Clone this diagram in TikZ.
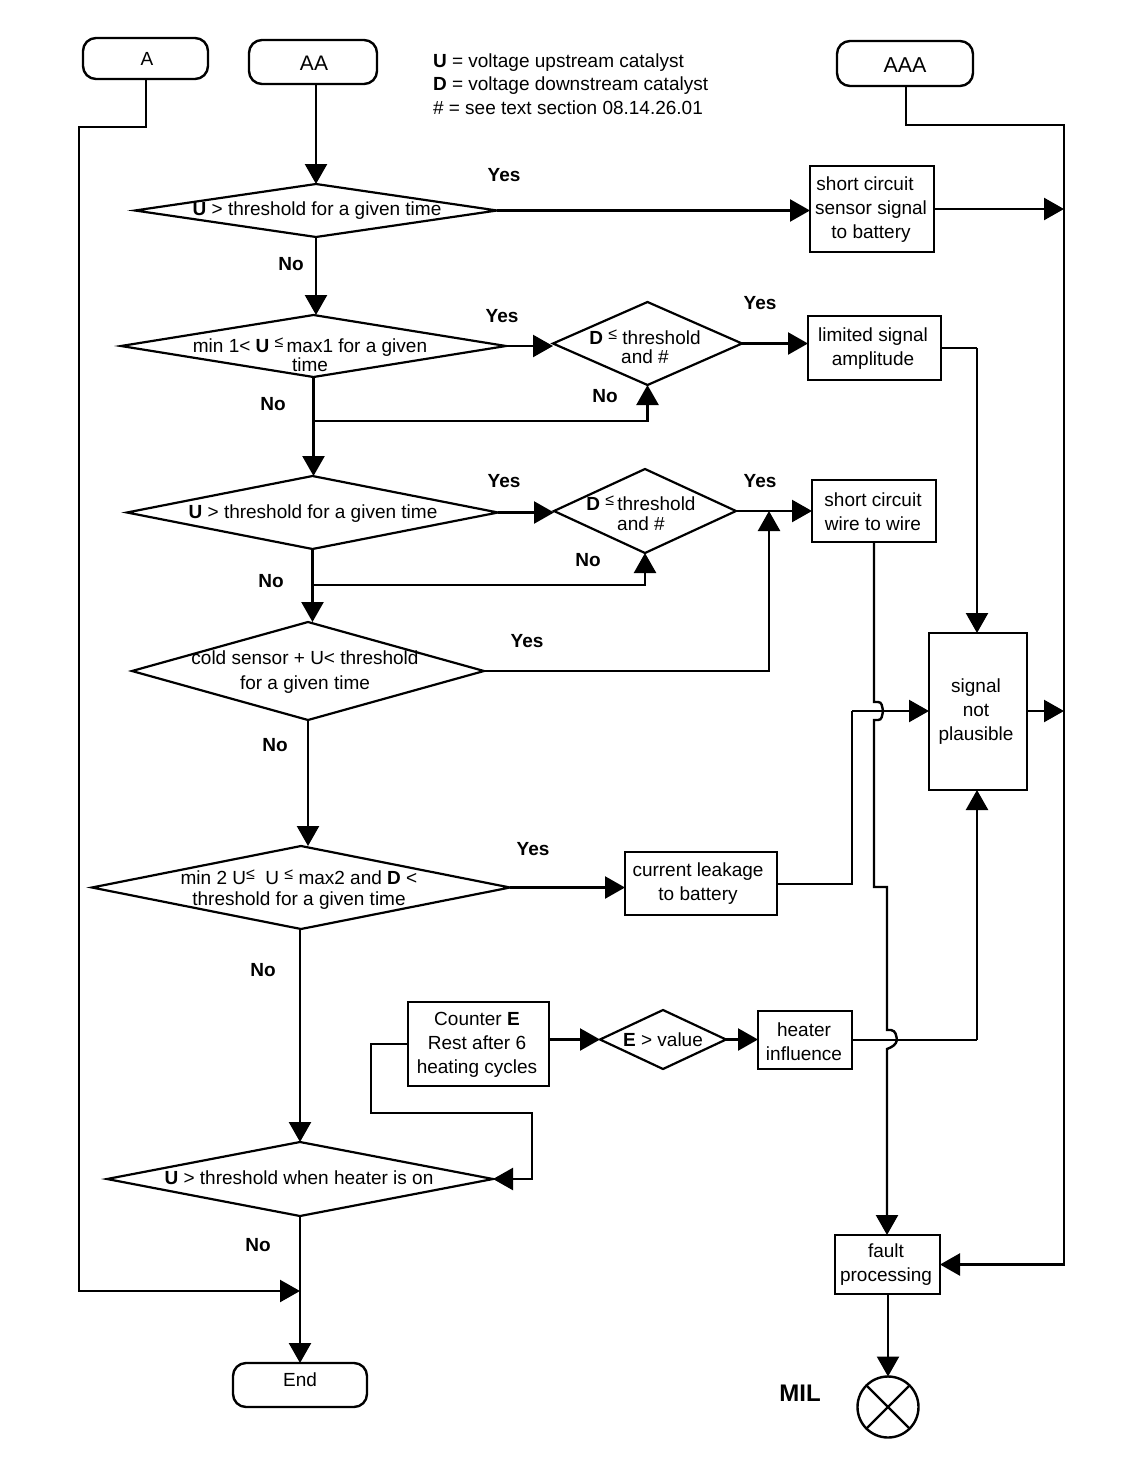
\documentclass[tikz,border=0pt]{standalone}
\usepackage{fontspec}
\setmainfont{Liberation Sans}
\usetikzlibrary{arrows.meta,shapes.geometric,calc}
\newcommand{\leup}{\raisebox{5pt}{\fontsize{16}{16}\selectfont ≤}}
\tikzset{
  x=1pt,y=-1pt,
  every node/.style={inner sep=0pt,outer sep=0pt,font=\fontsize{19}{24}\selectfont},
  link/.style={line width=2.4pt,black},
  arr/.style={link,-{Triangle[length=20pt,width=22pt]}},
  dia/.style={draw,diamond,line width=2.2pt,inner sep=0pt},
  box/.style={draw,rectangle,line width=2.4pt},
  term/.style={draw,rectangle,rounded corners=13pt,line width=2.4pt},
  txt/.style={align=center},
  yn/.style={font=\fontsize{19}{24}\selectfont\bfseries}
}
\begin{document}
\begin{tikzpicture}
\useasboundingbox (0,0) rectangle (1136,1472);
\fill[white] (0,0) rectangle (1136,1472);
% terminals
\node[term,minimum width=125pt,minimum height=41pt] (a) at (145.5,58.5) {};
\node (atxt) at (147,59) {A};
\node[term,minimum width=128pt,minimum height=44pt] (aa) at (313,62) {};
\node[font=\fontsize{21}{24}\selectfont] (aatxt) at (314,63) {AA};
\node[term,minimum width=136pt,minimum height=45pt] (aaa) at (905,63.5) {};
\node[font=\fontsize{21.5}{24}\selectfont] (aaatxt) at (905,65) {AAA};
\node[term,minimum width=134pt,minimum height=44pt] (endn) at (300,1385) {};
\node (endtxt) at (300,1380) {End};
% legend
\node[anchor=base west] (l1) at (433,67) {\textbf{U} = voltage upstream catalyst};
\node[anchor=base west] (l2) at (433,90) {\textbf{D} = voltage downstream catalyst};
\node[anchor=base west] (l3) at (433,114) {\# = see text section 08.14.26.01};
% diamonds
\node[dia,minimum width=362pt,minimum height=53pt] (d1) at (316,210.5) {};
\node[dia,minimum width=385pt,minimum height=62pt] (d2) at (313.5,346) {};
\node[dia,minimum width=189pt,minimum height=83pt] (d2b) at (647.5,343.5) {};
\node[dia,minimum width=371pt,minimum height=73pt] (d3) at (312.5,512.5) {};
\node[dia,minimum width=182pt,minimum height=84pt] (d3b) at (645,511) {};
\node[dia,minimum width=352pt,minimum height=98pt] (d4) at (308,671) {};
\node[dia,minimum width=418pt,minimum height=83pt] (d5) at (301,887.5) {};
\node[dia,minimum width=386pt,minimum height=74pt] (d6) at (300,1179) {};
\node[dia,minimum width=126pt,minimum height=59pt] (d7) at (663,1039.5) {};
% diamond texts
\node[txt] (t1) at (317,211) {\textbf{U} > threshold for a given time};
\node[txt,font=\fontsize{19}{19}\selectfont] (t2) at (310,355) {min 1< \textbf{U} \leup\,max1 for a given\\time};
\node[txt,font=\fontsize{19}{19}\selectfont] (t2b) at (645,347) {\textbf{D} \leup\ threshold\\and \#};
\node[txt] (t3) at (313,514) {\textbf{U} > threshold for a given time};
\node[txt,font=\fontsize{19}{20}\selectfont] (t3b) at (641,513) {\textbf{D} \leup\,threshold\\and \#};
\node[txt,font=\fontsize{19}{25}\selectfont] (t4) at (305,672) {cold sensor + U< threshold\\for a given time};
\node[txt,font=\fontsize{19}{21}\selectfont] (t5) at (299,890) {min 2 U\leup\ \ U \leup\ max2 and \textbf{D} <\\threshold for a given time};
\node[txt] (t6) at (299,1178) {\textbf{U} > threshold when heater is on};
\node[txt] (t7) at (663,1040) {\textbf{E} > value};
% boxes
\node[box,minimum width=124pt,minimum height=86pt] (r1) at (872,209) {};
\node[txt] (r1t) at (871,210) {short circuit\kern12pt\\sensor signal\\to battery};
\node[box,minimum width=133pt,minimum height=64pt] (r2) at (874.5,348) {};
\node[txt] (r2t) at (873,349) {limited signal\\amplitude};
\node[box,minimum width=124pt,minimum height=62pt] (r3) at (874,511) {};
\node[txt] (r3t) at (873,512) {short circuit\\wire to wire};
\node[box,minimum width=98pt,minimum height=157pt] (r4) at (978,711.5) {};
\node[txt] (r4t) at (976,712) {signal\\not\\plausible};
\node[box,minimum width=152pt,minimum height=63pt] (r5) at (701,883.5) {};
\node[txt] (r5t) at (698,884) {current leakage\\to battery};
\node[box,minimum width=141pt,minimum height=84pt] (r6) at (478.5,1044) {};
\node[txt] (r6t) at (477,1045) {Counter \textbf{E}\\Rest after 6\\heating cycles};
\node[box,minimum width=94pt,minimum height=58pt] (r7) at (805,1040) {};
\node[txt] (r7t) at (804,1042) {heater\\influence};
\node[box,minimum width=105pt,minimum height=59pt] (r8) at (887.5,1264.5) {};
\node[txt] (r8t) at (886,1265) {fault\\processing};
\node[draw,circle,line width=2.4pt,minimum size=61pt] (mil) at (888,1407) {};
\draw[link] (mil.45) -- (mil.225);
\draw[link] (mil.135) -- (mil.-45);
\node[font=\fontsize{24}{24}\selectfont\bfseries] (miltxt) at (800,1393) {MIL};
% yes / no
\node[yn] (y1) at (504,175) {Yes};
\node[yn] (y2) at (502,316) {Yes};
\node[yn] (y3) at (760,303) {Yes};
\node[yn] (y4) at (504,481) {Yes};
\node[yn] (y5) at (760,481) {Yes};
\node[yn] (y6) at (527,641) {Yes};
\node[yn] (y7) at (533,849) {Yes};
\node[yn] (n1) at (291,264) {No};
\node[yn] (n2) at (273,404) {No};
\node[yn] (n3) at (605,396) {No};
\node[yn] (n4) at (271,581) {No};
\node[yn] (n5) at (588,560) {No};
\node[yn] (n6) at (275,745) {No};
\node[yn] (n7) at (263,970) {No};
\node[yn] (n8) at (258,1245) {No};
% free coordinates
\coordinate (a1) at (146,127);
\coordinate (a2) at (79,127);
\coordinate (a3) at (79,1291);
\coordinate (endin) at (300,1291);
\coordinate (bus1) at (1064,209);
\coordinate (bus2) at (1064,711);
\coordinate (aaa1) at (906,125);
\coordinate (aaa2) at (1064,125);
\coordinate (j2) at (313,421);
\coordinate (j3) at (313,585);
\coordinate (j4) at (769,671);
\coordinate (r2a) at (977,348);
\coordinate (r5a) at (852,884);
\coordinate (r5b) at (852,711);
\coordinate (r6a) at (371,1044);
\coordinate (r6b) at (371,1113);
\coordinate (r6c) at (532,1113);
\coordinate (r6d) at (532,1179);
\coordinate (r7a) at (977,1040);
% connectors
\draw[arr] (a.south -| a1) -- (a1) -- (a2) -- (a3) -- (endin);
\draw[arr] (aa.south -| d1.north) -- (d1.north);
\draw[arr] (d1.east) -- (d1.east -| r1.west);
\draw[arr] (r1.east) -- (bus1);
\draw[arr] (aaa.south -| aaa1) -- (aaa1) -- (aaa2) -- (aaa2 |- r8.east) -- (r8.east);
\draw[arr] (d1.south) -- (d1.south |- d2.north);
\draw[arr] (d2.east) -- (d2.east -| d2b.west);
\draw[arr] (d2b.east) -- (d2b.east -| r2.west);
\draw[link] (r2a -| r2.east) -- (r2a);
\draw[arr] (r2a) -- (r2a |- r4.north);
\draw[arr] (d2.south) -- (d2.south |- d3.north);
\draw[arr] (j2) -- (j2 -| d2b.south) -- (d2b.south);
\draw[arr] (d3.east) -- (d3.east -| d3b.west);
\draw[arr] (d3b.east) -- (d3b.east -| r3.west);
\draw[arr] (d3.south) -- (d3.south |- d4.north);
\draw[arr] (j3) -- (j3 -| d3b.south) -- (d3b.south);
\draw[arr] (d4.east) -- (j4) -- (j4 |- d3b.east);
\draw[arr] (d4.south) -- (d5.north -| d4.south);
\draw[arr] (d5.east) -- (d5.east -| r5.west);
\draw[link] (r5a -| r5.east) -- (r5a) -- (r5b);
\draw[arr] (r5b) -- (r5b -| r4.west);
\draw[arr] (r4.east |- bus2) -- (bus2);
\draw[arr] (r3.south) -- (874,702) -- (878,702) .. controls (882,702) and (882,706) .. (883,711) .. controls (882,716) and (882,720) .. (878,720) -- (874,720) -- (874,887) -- (887,887) -- (887,1030) -- (891,1030) .. controls (896,1031) and (896,1035) .. (897,1040) .. controls (896,1045) and (892,1047) .. (887,1049) -- (887,1235);
\draw[arr] (r6.east |- d7.west) -- (d7.west);
\draw[arr] (d7.east) -- (d7.east -| r7.west);
\draw[link] (r7.east) -- (r7a);
\draw[arr] (r7a) -- (r4.south -| r7a);
\draw[arr] (r6.west) -- (r6a) -- (r6b) -- (r6c) -- (r6d) -- (d6.east);
\draw[arr] (d5.south -| d6.north) -- (d6.north);
\draw[arr] (d6.south) -- (endn.north);
\draw[arr] (r8.south -| mil.north) -- (mil.north);
\end{tikzpicture}
\end{document}
